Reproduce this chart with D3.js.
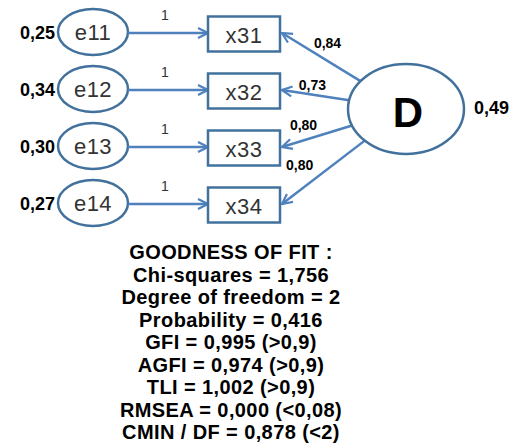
<!DOCTYPE html>
<html lang="en">
<head>
<meta charset="UTF-8">
<title>SEM path diagram</title>
<script src="https://cdn.jsdelivr.net/npm/d3@7"></script>
<style>
  body { margin: 0; background: #fff; }
  svg text { font-family: "Liberation Sans", Arial, sans-serif; }
</style>
</head>
<body>
<script>
// data
var errors = ["e11", "e12", "e13", "e14"];
var items = ["x31", "x32", "x33", "x34"];
var residuals = [0.25, 0.34, 0.30, 0.27];
var loadings = [0.84, 0.73, 0.80, 0.80];
var errorPaths = [1, 1, 1, 1];
var factor = "D";
var factorR2 = 0.49;
var fitLines = [
  "GOODNESS OF FIT :",
  "Chi-squares = 1,756",
  "Degree of freedom = 2",
  "Probability = 0,416",
  "GFI = 0,995 (>0,9)",
  "AGFI = 0,974 (>0,9)",
  "TLI = 1,002 (>0,9)",
  "RMSEA = 0,000 (<0,08)",
  "CMIN / DF = 0,878 (<2)"
];

var w = 520, h = 446;
var stroke = "#41719c", arrowCol = "#4f81bd";

var fmt = d3.formatLocale({decimal: ",", thousands: ".", grouping: [3], currency: ["", ""]}).format(".2f");

var svg = d3.select("body").append("svg")
  .attr("width", w).attr("height", h);

svg.append("defs").append("marker")
  .attr("id", "arr")
  .attr("viewBox", "0 0 12 12")
  .attr("refX", 11).attr("refY", 6)
  .attr("markerWidth", 12).attr("markerHeight", 12)
  .attr("markerUnits", "userSpaceOnUse")
  .attr("orient", "auto")
  .append("path")
  .attr("d", "M1,1 L11,6 L1,11")
  .attr("fill", "none")
  .attr("stroke", arrowCol)
  .attr("stroke-width", 2.2);

// rows
var y = d3.scalePoint().domain(d3.range(items.length)).range([32, 203]);

var eX = 93, eRx = 35, eRy = 23;
var bX0 = 208, bW = 72, bH = 35;
var dX = 406, dY = 109, dRx = 58, dRy = 45;
// where each loading label sits along its arrow (0 = box, 1 = factor)
var labelAt = [0.48, 0.43, 0.37, 0.36];
var labelOff = [15, 10, 15, 20];

var rows = svg.selectAll("g.row").data(items).enter().append("g").attr("class", "row");

// error terms
rows.append("ellipse")
  .attr("cx", eX).attr("cy", function(d, i) { return y(i); })
  .attr("rx", eRx).attr("ry", eRy)
  .attr("fill", "#fff").attr("stroke", stroke).attr("stroke-width", 2.5);

rows.append("text")
  .attr("x", eX).attr("y", function(d, i) { return y(i) + 8; })
  .attr("text-anchor", "middle").attr("font-size", 22).attr("fill", "#333")
  .attr("letter-spacing", 0.5)
  .text(function(d, i) { return errors[i]; });

rows.append("text")
  .attr("x", eX - eRx - 3).attr("y", function(d, i) { return y(i) + 7; })
  .attr("text-anchor", "end").attr("font-size", 18).attr("font-weight", "bold")
  .text(function(d, i) { return fmt(residuals[i]); });

// error -> item arrows
rows.append("line")
  .attr("x1", eX + eRx).attr("x2", bX0)
  .attr("y1", function(d, i) { return y(i) + 1; })
  .attr("y2", function(d, i) { return y(i) + 1; })
  .attr("stroke", arrowCol).attr("stroke-width", 2.5)
  .attr("marker-end", "url(#arr)");

rows.append("text")
  .attr("x", 165).attr("y", function(d, i) { return y(i) - 12; })
  .attr("text-anchor", "middle").attr("font-size", 14).attr("fill", "#333")
  .text(function(d, i) { return errorPaths[i]; });

// item boxes
rows.append("rect")
  .attr("x", bX0).attr("y", function(d, i) { return y(i) + 2 - bH / 2; })
  .attr("width", bW).attr("height", bH)
  .attr("fill", "#fff").attr("stroke", stroke).attr("stroke-width", 2.5);

rows.append("text")
  .attr("x", bX0 + bW / 2).attr("y", function(d, i) { return y(i) + 11; })
  .attr("text-anchor", "middle").attr("font-size", 22).attr("fill", "#333")
  .attr("letter-spacing", 0.5)
  .text(function(d) { return d; });

// factor -> item arrows
function edge(tx, ty) {
  var dx = tx - dX, dy = ty - dY;
  var t = 1 / Math.sqrt((dx / dRx) * (dx / dRx) + (dy / dRy) * (dy / dRy));
  return [dX + dx * t, dY + dy * t];
}

rows.each(function(d, i) {
  var g = d3.select(this);
  var tx = bX0 + bW + 2, ty = y(i) + 1;
  var s = edge(tx, ty);
  g.append("line")
    .attr("x1", s[0]).attr("y1", s[1])
    .attr("x2", tx).attr("y2", ty)
    .attr("stroke", arrowCol).attr("stroke-width", 2.5)
    .attr("marker-end", "url(#arr)");
  var len = Math.hypot(s[0] - tx, s[1] - ty);
  var ux = (s[0] - tx) / len, uy = (s[1] - ty) / len;
  // normal on the upper side of the arrow
  var nx = uy, ny = -ux;
  var f = labelAt[i];
  g.append("text")
    .attr("x", tx + (s[0] - tx) * f + nx * labelOff[i])
    .attr("y", ty + (s[1] - ty) * f + ny * labelOff[i] + 5)
    .attr("text-anchor", "middle").attr("font-size", 14).attr("font-weight", "bold")
    .text(fmt(loadings[i]));
});

// factor
svg.append("ellipse")
  .attr("cx", dX).attr("cy", dY).attr("rx", dRx).attr("ry", dRy)
  .attr("fill", "#fff").attr("stroke", stroke).attr("stroke-width", 2.5);

svg.append("text")
  .attr("x", dX + 2).attr("y", dY + 18)
  .attr("text-anchor", "middle").attr("font-size", 42).attr("font-weight", "bold")
  .text(factor);

svg.append("text")
  .attr("x", dX + dRx + 10).attr("y", dY + 5)
  .attr("font-size", 18).attr("font-weight", "bold")
  .text(fmt(factorR2));

// fit statistics, one line per statistic
var ly = d3.scalePoint().domain(d3.range(fitLines.length)).range([259, 439]);

svg.selectAll("text.fit").data(fitLines).enter().append("text")
  .attr("class", "fit")
  .attr("x", 231).attr("y", function(d, i) { return ly(i); })
  .attr("text-anchor", "middle").attr("font-size", 20).attr("font-weight", "bold")
  .attr("letter-spacing", 0.4)
  .text(function(d) { return d; });
</script>
</body>
</html>
